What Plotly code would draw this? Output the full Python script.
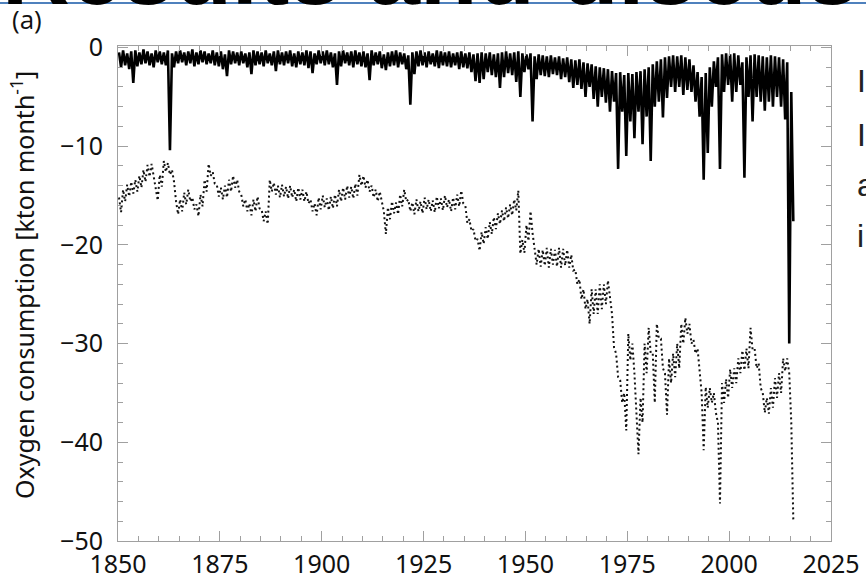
import plotly.graph_objects as go

# ---------------- data ----------------
years = list(range(1850, 2016))

# solid series: annual upper envelope (near 0) and annual trough
solid_hi = [
    -0.5, -0.3, -0.6, -0.4, -0.3, -0.5, -0.2, -0.4, -0.6, -0.3,
    -0.4, -0.5, -0.3, -0.6, -0.4, -0.3, -0.5, -0.4, -0.2, -0.5,
    -0.3, -0.4, -0.6, -0.3, -0.5, -0.4, -0.7, -0.3, -0.4, -0.5,
    -0.4, -0.6, -0.5, -0.3, -0.4, -0.5, -0.3, -0.6, -0.4, -0.3,
    -0.5, -0.4, -0.3, -0.6, -0.4, -0.5, -0.3, -0.4, -0.6, -0.3,
    -0.4, -0.3, -0.5, -0.6, -0.4, -0.3, -0.5, -0.4, -0.3, -0.5,
    -0.4, -0.6, -0.3, -0.5, -0.4, -0.7, -0.5, -0.4, -0.3, -0.5,
    -0.6, -0.8, -0.5, -0.4, -0.3, -0.5, -0.4, -0.6, -0.3, -0.4,
    -0.5, -0.4, -0.6, -0.5, -0.4, -0.6, -0.5, -0.7, -0.6, -0.5,
    -0.6, -0.5, -0.7, -0.6, -0.5, -0.4, -0.6, -0.5, -0.4, -0.6,
    -0.7, -0.6, -0.9, -0.7, -0.8, -0.9, -0.8, -1.0, -0.9, -1.1,
    -1.0, -1.2, -1.3, -1.2, -1.5, -1.6, -1.7, -1.9, -2.0, -2.1,
    -2.2, -2.4, -2.6, -2.5, -2.8, -2.6, -2.7, -2.5, -2.4, -2.2,
    -2.0, -1.7, -1.4, -1.2, -1.0, -0.9, -0.8, -0.9, -0.8, -1.0,
    -1.2, -1.8, -2.5, -3.0, -2.6, -2.0, -1.4, -1.0, -0.7, -0.6,
    -0.7, -0.6, -0.8, -1.5, -1.0, -0.8, -0.7, -0.8, -0.9, -1.0,
    -0.8, -0.9, -1.0, -1.2, -1.5, -4.5,
]
solid_lo = [
    -2.0, -1.8, -2.2, -3.6, -1.9, -1.7, -1.6, -1.8, -2.0, -1.5,
    -1.7, -1.8, -10.4, -2.0, -1.6, -1.5, -1.8, -1.6, -1.9, -1.7,
    -1.5, -1.7, -1.6, -1.8, -1.9, -2.2, -2.9, -1.7, -1.6, -1.8,
    -1.6, -2.0, -2.7, -1.8, -1.7, -1.9, -1.6, -1.8, -2.4, -1.7,
    -1.8, -1.6, -1.9, -2.0, -1.7, -1.8, -2.1, -2.6, -1.7, -1.6,
    -1.8, -1.7, -2.0, -3.8, -1.9, -1.6, -1.8, -2.0, -1.7, -1.9,
    -2.0, -3.3, -1.8, -1.7, -2.1, -2.3, -1.9, -1.8, -2.0, -1.7,
    -2.2, -5.8, -2.7, -1.9, -1.8, -2.0, -1.7, -1.9, -2.1, -1.8,
    -1.9, -2.0, -1.8, -2.2, -2.0, -2.1, -2.5, -3.4, -3.6, -3.2,
    -2.5, -2.8, -3.0, -4.1, -3.0, -2.6, -2.8, -3.5, -5.0, -2.5,
    -2.2, -7.5, -3.2, -2.8, -2.9, -3.0, -2.7, -2.8, -3.2, -3.0,
    -3.5, -4.1, -3.8, -4.2, -5.0, -4.0, -5.2, -6.0, -5.0, -5.6,
    -6.5, -5.5, -12.3, -6.5, -11.0, -7.5, -9.2, -6.5, -9.8, -7.0,
    -11.5, -6.0, -5.5, -7.1, -5.1, -4.0, -4.5, -4.0, -4.8, -4.3,
    -4.5, -5.5, -7.0, -13.4, -10.7, -6.0, -4.0, -12.3, -4.5, -3.8,
    -5.5, -4.5, -3.8, -13.2, -5.0, -7.5, -5.0, -5.5, -6.4, -5.5,
    -6.0, -5.0, -6.0, -7.3, -30.0, -17.6,
]

# dotted series: annual upper and lower values
dot_hi = [
    -15.2, -14.4, -13.9, -13.6, -13.4, -13.0, -12.4, -11.9, -11.8, -14.2,
    -12.9, -11.5, -11.7, -12.4, -15.6, -15.4, -14.7, -14.4, -15.2, -15.9,
    -14.9, -13.4, -11.8, -12.6, -13.9, -14.2, -14.0, -13.4, -13.0, -13.4,
    -14.9, -15.4, -15.8, -15.4, -15.1, -16.4, -16.6, -13.4, -13.7, -14.0,
    -13.9, -14.1, -14.0, -14.4, -14.2, -14.4, -14.6, -15.4, -15.8, -15.2,
    -15.0, -15.3, -15.1, -14.9, -14.4, -14.2, -14.0, -14.1, -13.8, -12.9,
    -13.0, -13.4, -14.0, -14.4, -14.6, -16.6, -16.2, -15.6, -15.7, -14.9,
    -14.4, -15.4, -15.7, -15.4, -15.6, -15.2, -15.4, -15.5, -15.1, -15.3,
    -15.0, -15.4, -15.2, -14.9, -14.5, -16.0, -17.4, -18.4, -19.4, -18.7,
    -18.2, -17.7, -17.2, -16.8, -16.5, -16.2, -15.9, -15.4, -14.5, -19.5,
    -18.0, -16.6, -20.3, -20.4, -20.5, -20.3, -20.4, -20.5, -20.3, -20.4,
    -20.5, -21.0, -22.5, -23.5, -24.5, -25.5, -24.5, -24.5, -24.0, -24.0,
    -23.6, -27.0, -31.0, -33.7, -35.0, -29.0, -30.0, -36.5, -35.5, -30.0,
    -28.4, -31.0, -28.0, -29.5, -33.0, -31.5, -31.0, -30.0, -28.0, -27.4,
    -28.0, -29.6, -30.5, -35.0, -34.4, -34.5, -35.0, -38.0, -34.0, -33.6,
    -32.6, -32.5, -31.5, -30.7, -30.5, -28.4, -30.5, -32.0, -35.0, -35.5,
    -34.5, -33.5, -33.0, -31.5, -31.5, -38.0,
]
dot_lo = [
    -16.7, -15.6, -15.1, -14.8, -14.6, -14.2, -13.6, -13.1, -12.9, -15.5,
    -14.1, -12.6, -12.9, -13.6, -16.9, -16.6, -15.9, -15.6, -16.4, -17.1,
    -16.1, -14.6, -13.0, -13.8, -15.1, -15.4, -15.2, -14.6, -14.2, -14.6,
    -16.1, -16.6, -17.0, -16.6, -16.3, -17.6, -17.9, -14.6, -14.9, -15.2,
    -15.1, -15.3, -15.2, -15.6, -15.4, -15.6, -15.8, -16.6, -17.0, -16.4,
    -16.2, -16.5, -16.3, -16.1, -15.6, -15.4, -15.2, -15.3, -15.0, -14.0,
    -14.2, -14.6, -15.2, -15.6, -15.8, -18.9, -17.4, -16.8, -16.9, -16.1,
    -15.6, -16.6, -16.9, -16.6, -16.8, -16.4, -16.6, -16.7, -16.3, -16.5,
    -16.2, -16.6, -16.4, -16.1, -15.8, -17.8, -18.6, -19.6, -20.6, -19.9,
    -19.4, -18.9, -18.4, -17.9, -17.6, -17.3, -17.0, -16.5, -20.9, -20.8,
    -19.6, -18.8, -22.0, -22.2, -22.1, -22.3, -22.0, -22.2, -22.3, -22.1,
    -22.3, -22.6, -24.0, -25.5, -26.5, -28.0, -27.0, -27.0, -26.5, -26.0,
    -25.5, -30.4, -33.4, -36.0, -38.8, -31.7, -33.0, -41.2, -38.0, -33.0,
    -31.0, -36.0, -29.5, -32.5, -37.2, -34.0, -33.4, -32.5, -30.0, -29.0,
    -30.0, -31.0, -32.5, -40.8, -36.5, -36.0, -37.0, -46.2, -36.0, -35.5,
    -34.5, -34.0, -33.0, -32.7, -32.5, -30.6, -32.5, -34.5, -37.0, -37.1,
    -36.5, -35.5, -35.0, -32.8, -33.0, -47.9,
]

x_ticks = [1850, 1875, 1900, 1925, 1950, 1975, 2000, 2025]
y_ticks = [0, -10, -20, -30, -40, -50]

title_text = "Results and discussion"
panel_label = "(a)"
y_title = "Oxygen consumption [kton month<sup>-1</sup>]"
side_letters = ["I", "I", "a", "i"]


def seasonal_path(yrs, hi, lo):
    xs, ys = [], []
    for yr, h, l in zip(yrs, hi, lo):
        xs += [yr + 0.25, yr + 0.75]
        ys += [h, l]
    return xs, ys


sx, sy = seasonal_path(years, solid_hi, solid_lo)
dx, dy = seasonal_path(years, dot_hi, dot_lo)

fig = go.Figure()
fig.add_trace(go.Scatter(x=dx, y=dy, mode="lines",
                         line=dict(color="#111111", width=2.0, dash="2px,3px"),
                         hoverinfo="skip", showlegend=False))
fig.add_trace(go.Scatter(x=sx, y=sy, mode="lines",
                         line=dict(color="#000000", width=2.6),
                         hoverinfo="skip", showlegend=False))

W, H = 866, 583
L, R, T, B = 118, 35, 46, 42
pw, ph = W - L - R, H - T - B


def px(xp):
    return (xp - L) / pw


def py(yp):
    return (H - B - yp) / ph


axis_common = dict(
    showgrid=False, zeroline=False, showline=True, linecolor="#a0a0a0",
    linewidth=1, mirror="ticks", ticks="inside", ticklen=10, tickwidth=1,
    tickcolor="#a0a0a0", automargin=False,
    tickfont=dict(family="Noto Sans", size=25, color="#111111"),
)

fig.update_layout(
    width=W, height=H,
    margin=dict(l=L, r=R, t=T, b=B),
    paper_bgcolor="white", plot_bgcolor="white",
    xaxis=dict(range=[1850, 2025], tickvals=x_ticks,
               minor=dict(dtick=5, tick0=1850, ticklen=5, ticks="inside",
                          tickcolor="#a0a0a0", showgrid=False),
               ticklabelstandoff=1, **axis_common),
    yaxis=dict(range=[-50, 0.15], tickvals=y_ticks,
               minor=dict(dtick=2, tick0=0, ticklen=5, ticks="inside",
                          tickcolor="#a0a0a0", showgrid=False),
               ticklabelstandoff=9, **axis_common),
    shapes=[dict(type="line", xref="paper", yref="paper",
                 x0=px(0), x1=px(W), y0=py(3), y1=py(3),
                 line=dict(color="#4f81bd", width=2))],
)

ann = [
    dict(text=title_text, xref="paper", yref="paper", x=px(0), y=py(26),
         xanchor="left", yanchor="bottom", showarrow=False,
         font=dict(family="Liberation Sans", size=94, color="black", weight="bold")),
    dict(text=panel_label, xref="paper", yref="paper", x=px(27), y=py(19),
         xanchor="center", yanchor="middle", showarrow=False,
         font=dict(family="Open Sans", size=26, color="#111111")),
    dict(text=y_title, xref="paper", yref="paper", x=px(22), y=py(285),
         xanchor="center", yanchor="middle", textangle=-90, showarrow=False,
         font=dict(family="Noto Sans", size=25, color="#111111")),
]
for letter, base in zip(side_letters, [101, 155, 205, 256]):
    ann.append(dict(text=letter, xref="paper", yref="paper", x=px(855), y=py(base),
                    xanchor="left", yanchor="bottom", showarrow=False,
                    font=dict(family="Liberation Sans", size=32, color="#222222")))
fig.update_layout(annotations=ann)

fig.write_html("out.html",
               config={"displayModeBar": False},
               post_script="document.body.style.margin='0';")
